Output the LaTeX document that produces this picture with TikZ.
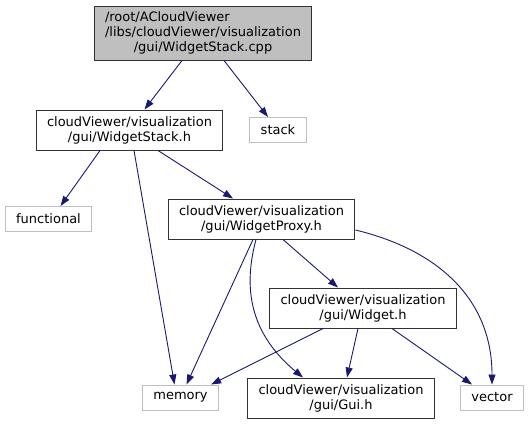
\documentclass[tikz,border=0pt]{standalone}
\usepackage{fontspec}
\setmainfont{DejaVu Sans}
\usepackage{tikz}
\usetikzlibrary{arrows.meta}
\usepackage{xcolor}
\definecolor{edgeblue}{RGB}{25,25,112}
\definecolor{sysgray}{RGB}{191,191,191}
\definecolor{boxgray}{RGB}{50,50,50}
\tikzset{
    % Project headers
    hnode/.style={rectangle, draw=boxgray, fill=white, line width=1pt,
                inner xsep=11pt, inner ysep=2pt, minimum height=40pt,
                align=center, font=\fontsize{13}{15}\selectfont},
    % Source file
    rootnode/.style={hnode, fill=sysgray, minimum height=54pt},
    % System headers
    snode/.style={rectangle, draw=sysgray, fill=white, line width=1pt,
                inner xsep=11pt, inner ysep=2pt, minimum height=25pt,
                font=\fontsize{13}{15}\selectfont},
    % Include edges
    iarrow/.style={-{Stealth[length=10pt, width=7pt, inset=0pt]}, edgeblue, line width=0.9pt},
}

\begin{document}
\begin{tikzpicture}[x=1pt, y=-1pt]
\useasboundingbox (0,0) rectangle (529,424);

\node[rootnode] (root) at (203,33) {\begin{tabular}{@{}l@{}}/root/ACloudViewer\\/libs/cloudViewer/visualization\\\multicolumn{1}{@{}c@{}}{/gui/WidgetStack.cpp}\end{tabular}};
\node[hnode] (wstack)     at (129.5,130) {cloudViewer/visualization\\/gui/WidgetStack.h};
\node[snode] (stack)      at (278,130)   {stack};
\node[snode] (functional) at (48.5,219)  {functional};
\node[hnode] (wproxy)     at (261.5,219) {cloudViewer/visualization\\/gui/WidgetProxy.h};
\node[hnode] (widget)     at (363,308)   {cloudViewer/visualization\\/gui/Widget.h};
\node[snode] (memory)     at (180.5,397.5) {memory};
\node[hnode] (gui)        at (341,398)   {cloudViewer/visualization\\/gui/Gui.h};
\node[snode] (vector)     at (492,397.5) {vector};

\draw[iarrow] ([xshift=-21pt]root.south) -- ([xshift=15pt]wstack.north);
\draw[iarrow] ([xshift=21pt]root.south) -- ([xshift=-10pt]stack.north);

\draw[iarrow] ([xshift=-29.5pt]wstack.south) -- ([xshift=12pt]functional.north);
\draw[iarrow] ([xshift=4.5pt]wstack.south) -- ([xshift=-6pt]memory.north);
\draw[iarrow] ([xshift=28.5pt]wstack.south) -- ([xshift=-28.5pt]wproxy.north);

\draw[iarrow] ([xshift=-8.5pt]wproxy.south) -- ([xshift=6pt]memory.north);
\draw[iarrow] ([xshift=-5.5pt]wproxy.south) .. controls +(-11,41) and +(-58,-48) .. ([xshift=-38pt]gui.north);
\draw[iarrow] ([xshift=21.5pt]wproxy.south) -- ([xshift=-25pt]widget.north);
\draw[iarrow] ([yshift=-11pt]wproxy.east) .. controls +(83,20) and +(0,-85) .. (vector.north);

\draw[iarrow] ([xshift=-40pt]widget.south) -- ([xshift=-8pt]memory.north east);
\draw[iarrow] ([xshift=-5pt]widget.south) -- ([xshift=6pt]gui.north);
\draw[iarrow] ([xshift=29pt]widget.south) -- ([xshift=-20pt]vector.north);
\end{tikzpicture}
\end{document}
